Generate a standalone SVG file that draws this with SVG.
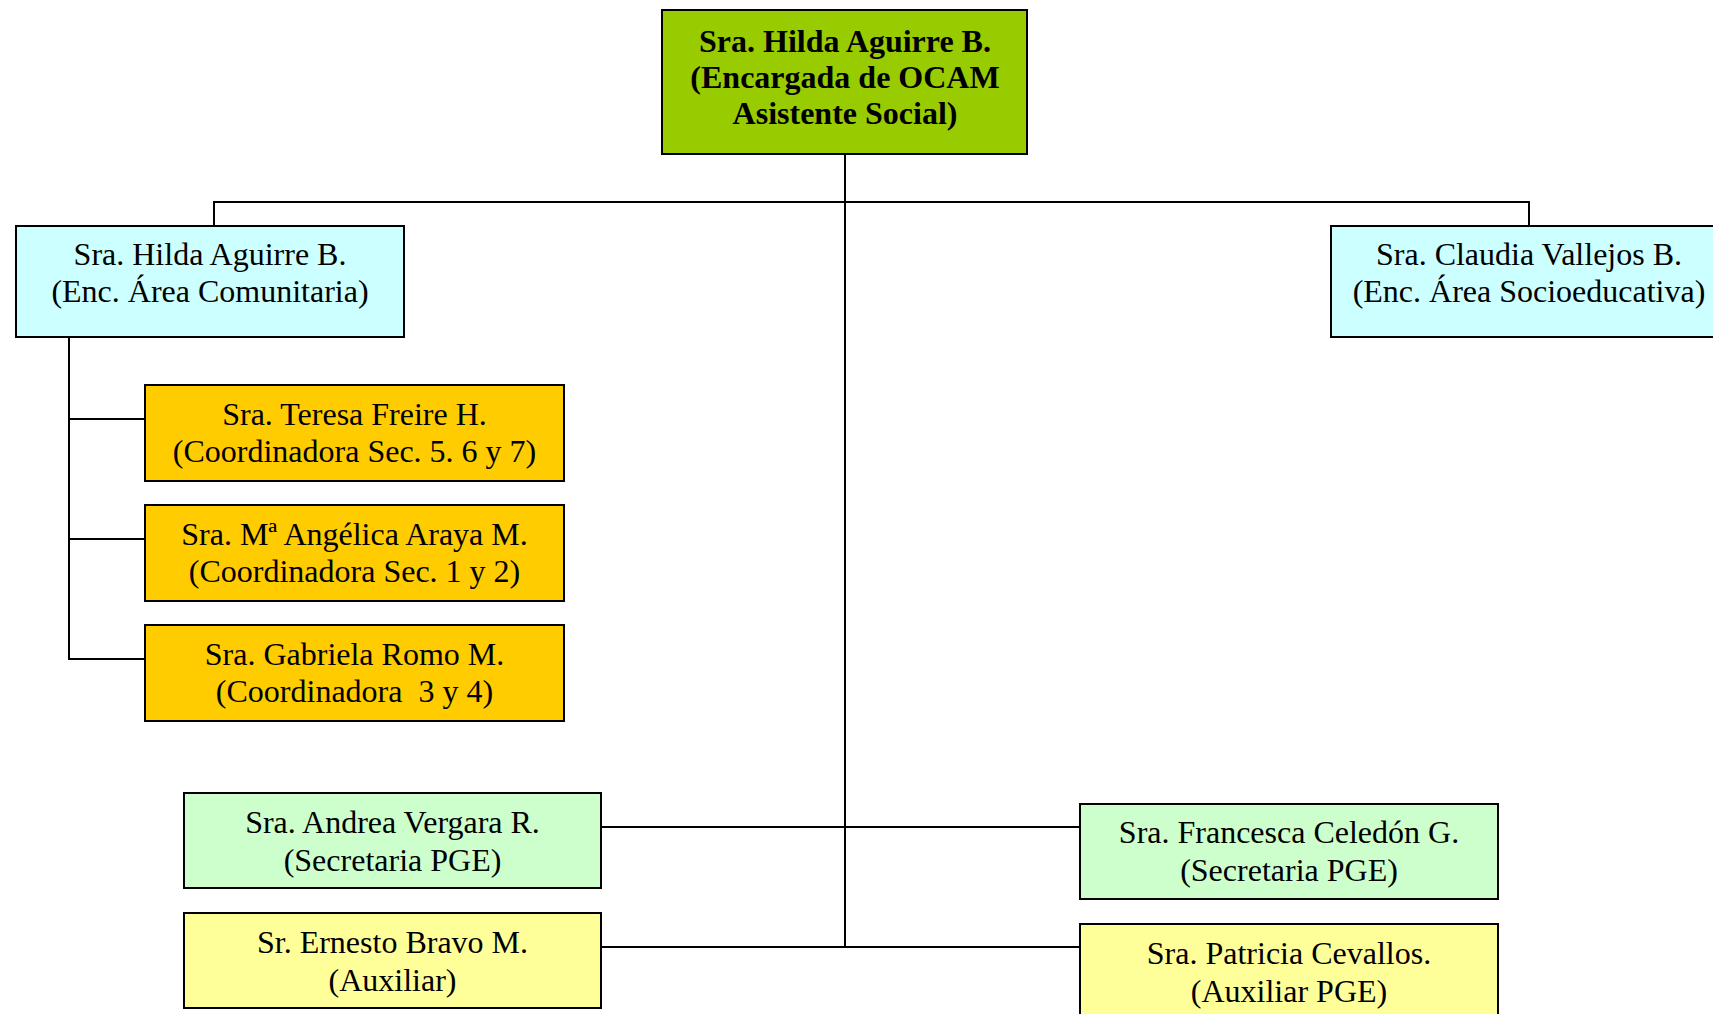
<svg xmlns="http://www.w3.org/2000/svg" width="1713" height="1014" viewBox="0 0 1713 1014">
<style>
rect{stroke:#000;stroke-width:2}
text{font-family:"Liberation Serif","Times New Roman",serif;font-size:32px;text-anchor:middle;fill:#000;white-space:pre}
.b{font-weight:bold}
.c line{stroke:#000;stroke-width:2}
.top{fill:#99CC00}.cy{fill:#CCFFFF}.or{fill:#FFCC00}.gr{fill:#CCFFCC}.ye{fill:#FFFF99}
</style>
<rect x="0" y="0" width="1713" height="1014" fill="#fff" style="stroke:none"/>
<g class="c" id="connectors">
<line x1="845" y1="154" x2="845" y2="948"/>
<line x1="213" y1="202" x2="1529" y2="202"/>
<line x1="214" y1="201" x2="214" y2="226"/>
<line x1="1529" y1="201" x2="1529" y2="226"/>
<line x1="69" y1="337" x2="69" y2="660"/>
<line x1="68" y1="419" x2="145" y2="419"/>
<line x1="68" y1="539" x2="145" y2="539"/>
<line x1="68" y1="659" x2="145" y2="659"/>
<line x1="601" y1="827" x2="1080" y2="827"/>
<line x1="601" y1="947" x2="1080" y2="947"/>
</g>
<g id="n-top"><rect class="top" x="662" y="10" width="365" height="144"/>
<text class="b" x="845" y="52">Sra. Hilda Aguirre B.</text>
<text class="b" x="845" y="88">(Encargada de OCAM</text>
<text class="b" x="845" y="124">Asistente Social)</text></g>
<g id="n-comunitaria"><rect class="cy" x="16" y="226" width="388" height="111"/>
<text x="210" y="265">Sra. Hilda Aguirre B.</text>
<text x="210" y="302">(Enc. Área Comunitaria)</text></g>
<g id="n-socioeducativa"><rect class="cy" x="1331" y="226" width="396" height="111"/>
<text x="1529" y="265">Sra. Claudia Vallejos B.</text>
<text x="1529" y="302">(Enc. Área Socioeducativa)</text></g>
<g id="n-teresa"><rect class="or" x="145" y="385" width="419" height="96"/>
<text x="354.5" y="425">Sra. Teresa Freire H.</text>
<text x="354.5" y="462">(Coordinadora Sec. 5. 6 y 7)</text></g>
<g id="n-angelica"><rect class="or" x="145" y="505" width="419" height="96"/>
<text x="354.5" y="545">Sra. Mª Angélica Araya M.</text>
<text x="354.5" y="582">(Coordinadora Sec. 1 y 2)</text></g>
<g id="n-gabriela"><rect class="or" x="145" y="625" width="419" height="96"/>
<text x="354.5" y="665">Sra. Gabriela Romo M.</text>
<text x="354.5" y="702">(Coordinadora  3 y 4)</text></g>
<g id="n-andrea"><rect class="gr" x="184" y="793" width="417" height="95"/>
<text x="392.5" y="833">Sra. Andrea Vergara R.</text>
<text x="392.5" y="871">(Secretaria PGE)</text></g>
<g id="n-ernesto"><rect class="ye" x="184" y="913" width="417" height="95"/>
<text x="392.5" y="953">Sr. Ernesto Bravo M.</text>
<text x="392.5" y="991">(Auxiliar)</text></g>
<g id="n-francesca"><rect class="gr" x="1080" y="804" width="418" height="95"/>
<text x="1289" y="843">Sra. Francesca Celedón G.</text>
<text x="1289" y="881">(Secretaria PGE)</text></g>
<g id="n-patricia"><rect class="ye" x="1080" y="924" width="418" height="100"/>
<text x="1289" y="964">Sra. Patricia Cevallos.</text>
<text x="1289" y="1002">(Auxiliar PGE)</text></g>
</svg>
